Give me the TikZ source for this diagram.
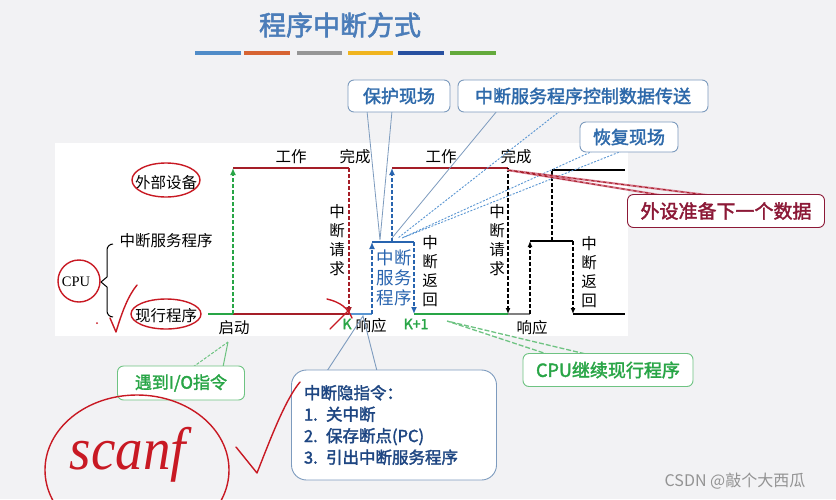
\documentclass[tikz,border=0pt]{standalone}
\usepackage{fontspec}
\setmainfont{Liberation Serif}
\newfontfamily\cjk{Noto Sans CJK SC}
\newfontfamily\cjkb[FakeBold=2]{Noto Sans CJK SC}
\usetikzlibrary{arrows.meta}
\definecolor{bg}{RGB}{242,242,244}
\definecolor{dred}{RGB}{165,30,40}
\definecolor{hred}{RGB}{200,25,35}
\definecolor{grn}{RGB}{40,165,70}
\definecolor{lgrn}{RGB}{110,195,130}
\definecolor{blu}{RGB}{40,100,175}
\definecolor{lblu}{RGB}{90,150,210}
\definecolor{ctext}{RGB}{45,105,170}
\definecolor{cbord}{RGB}{125,155,190}
\definecolor{navy}{RGB}{30,70,130}
\definecolor{titlec}{RGB}{75,125,185}
\definecolor{bwine}{RGB}{140,25,55}
\definecolor{pinkc}{RGB}{215,120,140}
\definecolor{barA}{RGB}{80,140,200}
\definecolor{barB}{RGB}{215,100,50}
\definecolor{barC}{RGB}{150,150,150}
\definecolor{barD}{RGB}{240,180,30}
\definecolor{barE}{RGB}{40,80,160}
\definecolor{barF}{RGB}{100,170,60}
\tikzset{
  lab/.style={font=\cjk\fontsize{15.5}{18.7}\selectfont, inner sep=0pt, align=center},
  vlab/.style={font=\cjk\fontsize{15.5}{19}\selectfont, inner sep=0pt, align=center},
  solidln/.style={line width=2.4pt},
  dashln/.style={line width=1.8pt, dash pattern=on 4pt off 2pt, -{Latex[length=7pt,width=6pt]}},
  kdash/.style={line width=1.3pt, dash pattern=on 4pt off 2pt, -{Latex[length=6pt,width=5pt]}},
  callout/.style={draw=cbord, line width=0.9pt, fill=white, rounded corners=6pt, inner sep=0pt, font=\cjkb\fontsize{18}{22}\selectfont, text=ctext},
  tail/.style={draw=cbord, line width=0.8pt},
  dtail/.style={draw=lblu, line width=0.9pt, dash pattern=on 2pt off 1.5pt},
  hand/.style={draw=hred, line width=1.4pt, line cap=round, line join=round},
}
\begin{document}
\begin{tikzpicture}[x=1pt,y=-1pt]
\useasboundingbox (0,0) rectangle (836,499);
\fill[bg] (0,0) rectangle (836,499);
\fill[white] (55,143) rectangle (628,336);

% title and colour bars
\node[font=\cjkb\fontsize{27}{27}\selectfont, text=titlec] (title) at (340,25) {程序中断方式};
\fill[barA] (195,51) rectangle (241,55);
\fill[barB] (244,51) rectangle (290,55);
\fill[barC] (297,51) rectangle (342,55);
\fill[barD] (348,51) rectangle (393,55);
\fill[barE] (398,51) rectangle (444,55);
\fill[barF] (450,51) rectangle (496,55);

% left labels
\node[lab] (dev) at (166,183) {外部设备};
\node[lab] (isr) at (166,241) {中断服务程序};
\node[lab] (cur) at (166,316) {现行程序};
\node[font=\fontsize{14.5}{15}\selectfont, inner sep=0pt] (cpu) at (76,282) {CPU};
\draw[line width=1pt] (113,244) to[out=180,in=90] (107,250) -- (107,277) -- (101,282) -- (107,287) -- (107,311) to[out=-90,in=180] (113,317);

% timeline coordinates
\coordinate (a0) at (208,314);
\coordinate (a1) at (233,314);
\coordinate (a2) at (233,168);
\coordinate (a3) at (349,168);
\coordinate (a4) at (349,314);
\coordinate (b1) at (372,314);
\coordinate (b2) at (372,242);
\coordinate (b3) at (414,242);
\coordinate (b4) at (414,314);
\coordinate (c1) at (392,242);
\coordinate (c2) at (392,168);
\coordinate (c3) at (508,168);
\coordinate (c4) at (508,314);
\coordinate (d1) at (530,314);
\coordinate (d2) at (530,241);
\coordinate (d3) at (573,241);
\coordinate (d4) at (573,314);
\coordinate (d5) at (625,314);
\coordinate (e1) at (552,241);
\coordinate (e2) at (552,170);
\coordinate (e3) at (625,170);

\draw[grn, solidln] (a0) -- (a1);
\draw[dred, solidln] (a1) -- (a4);
\draw[dred, solidln] (a2) -- (a3);
\draw[grn, dashln] (a1) -- (a2);
\draw[dred, dashln] (a3) -- (a4);
\draw[lblu, solidln] (a4) -- (b1);
\draw[blu, solidln] (b2) -- (b3);
\draw[blu, dashln] (b1) -- (b2);
\draw[blu, dashln] (b3) -- (b4);
\draw[dred, solidln] (c2) -- (c3);
\draw[blu, dashln] (c1) -- (c2);
\draw[grn, solidln] (b4) -- (c4);
\draw[black, kdash] (c3) -- (c4);
\draw[gray, line width=1.8pt] (c4) -- (d1);
\draw[black, line width=1.3pt] (d2) -- (d3);
\draw[black, line width=1.3pt] (d4) -- (d5);
\draw[black, kdash] (d1) -- (d2);
\draw[black, kdash] (d3) -- (d4);
\draw[black, line width=1.3pt, dash pattern=on 4pt off 2pt] (e1) -- (e2);
\draw[black, line width=1.3pt] (e2) -- (e3);

% timeline labels
\node[lab] (w1) at (291,157) {工作};
\node[lab] (f1) at (355,157) {完成};
\node[lab] (w2) at (441,157) {工作};
\node[lab] (f2) at (516,157) {完成};
\node[vlab] (q1) at (337,240) {中\\断\\请\\求};
\node[vlab] (r1) at (430,271) {中\\断\\返\\回};
\node[vlab] (q2) at (497,240) {中\\断\\请\\求};
\node[vlab] (r2) at (589,272) {中\\断\\返\\回};
\node[font=\cjk\fontsize{17.5}{20}\selectfont, text=blu, align=center, inner sep=0pt] (svc) at (394,278) {中断\\服务\\程序};
\node[lab] (st) at (234,328) {启动};
\node[font=\cjkb\fontsize{14}{14}\selectfont, text=grn, inner sep=0pt] (k) at (347,324) {K};
\node[lab] (re1) at (371,326) {响应};
\node[font=\cjkb\fontsize{14}{14}\selectfont, text=grn, inner sep=0pt] (k1) at (416,324) {K+1};
\node[lab] (re2) at (532,328) {响应};

% callout apex points
\coordinate (p1) at (380,240);
\coordinate (p2) at (392,238);
\coordinate (p3) at (398,238);
\coordinate (p4) at (402,238);
\coordinate (pw) at (507,170);
\coordinate (pi) at (228,342);
\coordinate (pz) at (363,316);
\coordinate (pc) at (447,321);

% tails
\draw[tail] (367,111) -- (p1) -- (392,111);
\draw[tail] (497,111) -- (p2);
\draw[dtail] (560,111) -- (p3);
\draw[dtail] (593,151) -- (p4) -- (622,151);
\draw[pinkc, line width=2pt] (660,195) -- (pw) -- (707,195);
\draw[dred, line width=1pt, dash pattern=on 3pt off 3pt] (660,195) -- (pw) -- (707,195);
\draw[lgrn, line width=1pt, dash pattern=on 3pt off 1.5pt] (193,367) -- (pi);
\draw[lgrn, line width=1pt] (pi) -- (223,367);
\draw[cbord, line width=0.9pt] (327,371) -- (pz) -- (377,371);
\draw[lgrn, line width=1.3pt, dash pattern=on 5pt off 2pt] (550,355) -- (pc) -- (590,355);

% callout boxes
\node[callout, minimum width=102pt, minimum height=32pt] (bh) at (399,96) {保护现场};
\node[callout, minimum width=250pt, minimum height=32pt] (bs) at (583,96) {中断服务程序控制数据传送};
\node[callout, minimum width=98pt, minimum height=30pt] (bf) at (629,137) {恢复现场};
\node[callout, draw=bwine, text=bwine, minimum width=197pt, minimum height=33pt, font=\cjkb\fontsize{19}{22}\selectfont] (bw) at (726,211) {外设准备下一个数据};
\node[callout, draw=lgrn, text=grn, minimum width=127pt, minimum height=34pt, font=\cjkb\fontsize{17}{20}\selectfont] (bi) at (181,383) {遇到I/O指令};
\node[callout, draw=lgrn, text=grn, minimum width=170pt, minimum height=33pt] (bc) at (608,370) {CPU继续现行程序};
\node[callout, rounded corners=15pt, minimum width=205pt, minimum height=110pt, text=navy, font=\cjkb\fontsize{16.5}{21.5}\selectfont, align=left, text width=180pt] (bz) at (394,425) {中断隐指令：\\1. 关中断\\2. 保存断点(PC)\\3. 引出中断服务程序};

% handwritten annotations
\draw[hand] (166,180) ellipse [x radius=34, y radius=17];
\draw[hand] (79,281) ellipse [x radius=21, y radius=21];
\draw[hand] (166,314) ellipse [x radius=35, y radius=15];
\draw[hand] (110,318) -- (116,332) .. controls (122,312) and (128,296) .. (137,285);
\fill[hred] (97,323) circle (1pt);
\draw[hand] (327,299) .. controls (340,302) and (348,308) .. (352,318);
\draw[hand] (330,329) -- (350,309);
\draw[hand] (137,470) ellipse [x radius=92, y radius=75];
\node[text=hred, font=\fontsize{50}{50}\selectfont\itshape, inner sep=0pt, xscale=1.1, yscale=1.2] (scan) at (128,455) {scanf};
\draw[hand] (236,447) -- (257,473) .. controls (270,440) and (285,400) .. (300,382);

% watermark
\node[font=\cjk\fontsize{16}{16}\selectfont, text=gray!85, inner sep=0pt] (wm) at (735,481) {CSDN @敲个大西瓜};
\end{tikzpicture}
\end{document}
